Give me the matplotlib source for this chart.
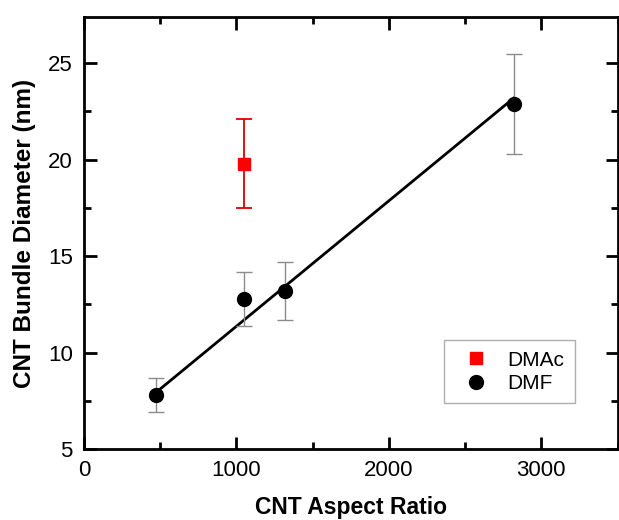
import numpy as np
import matplotlib
matplotlib.use('Agg')
import matplotlib.pyplot as plt
from matplotlib.ticker import MultipleLocator
from matplotlib.lines import Line2D

plt.rcParams['font.family'] = ['Liberation Sans', 'DejaVu Sans']

# data
dmf_x = [475, 1050, 1320, 2820]
dmf_y = [7.8, 12.8, 13.2, 22.9]
dmf_err = [0.9, 1.4, 1.5, 2.6]

dmac_x = [1050]
dmac_y = [19.8]
dmac_err_lo = [2.3]
dmac_err_hi = [2.3]

# linear fit through the DMF points (end points)
fit_x = [475, 2820]
fit_y = [7.95, 23.2]

fig = plt.figure(figsize=(6.19, 5.2), dpi=100)
ax = fig.add_axes([0.1357, 0.1365, 0.862, 0.831])

ax.plot(fit_x, fit_y, color='black', lw=2.0, zorder=3)

ax.errorbar(dmf_x, dmf_y, yerr=dmf_err, fmt='o', color='black', ms=10,
            ecolor='#8c8c8c', elinewidth=1.0, capsize=6, capthick=1.0,
            zorder=4)
ax.errorbar(dmac_x, dmac_y, yerr=[dmac_err_lo, dmac_err_hi], fmt='s',
            color='#ff0000', ms=9, ecolor='#e00000', elinewidth=1.3,
            capsize=6, capthick=1.3, zorder=4)

ax.set_xlim(0, 3500)
ax.set_ylim(5, 27.4)
ax.xaxis.set_major_locator(MultipleLocator(1000))
ax.xaxis.set_minor_locator(MultipleLocator(500))
ax.yaxis.set_major_locator(MultipleLocator(5))
ax.yaxis.set_minor_locator(MultipleLocator(2.5))
ax.tick_params(which='both', direction='in', top=True, right=True,
               width=2, labelsize=16)
ax.tick_params(which='major', length=9, pad=8)
ax.tick_params(which='minor', length=5)
for s in ax.spines.values():
    s.set_linewidth(2)

ax.set_xlabel('CNT Aspect Ratio', fontsize=16.5, fontweight='bold', labelpad=11)
ax.set_ylabel('CNT Bundle Diameter (nm)', fontsize=17.5, fontweight='bold', labelpad=9)

handles = [Line2D([], [], ls='none', marker='s', color='#ff0000', ms=9),
           Line2D([], [], ls='none', marker='o', color='black', ms=10)]
leg = ax.legend(handles, ['DMAc', 'DMF'], loc='lower right',
                bbox_to_anchor=(0.92, 0.106), fontsize=15, fancybox=False,
                edgecolor='#9a9a9a', handlelength=2.1, handletextpad=0.45,
                borderpad=0.5, labelspacing=0.2, borderaxespad=0)
leg.get_frame().set_linewidth(1.0)

fig.savefig('out.png', dpi=100)
